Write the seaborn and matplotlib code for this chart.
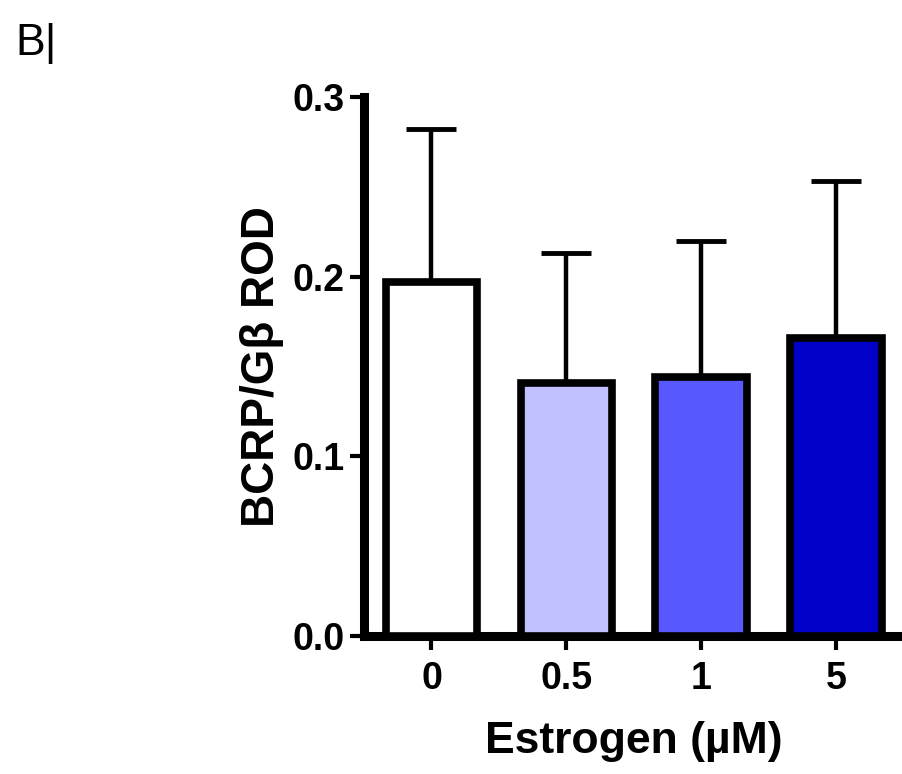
import matplotlib
matplotlib.use("Agg")
import matplotlib.pyplot as plt
import seaborn as sns
import pandas as pd

categories = ["0", "0.5", "1", "5"]
means = [0.197, 0.141, 0.144, 0.166]
errors = [0.085, 0.072, 0.076, 0.087]
colors = ["#FFFFFF", "#C0C0FF", "#5858FF", "#0000C8"]
y_ticks = [0.0, 0.1, 0.2, 0.3]
y_ticklabels = ["0.0", "0.1", "0.2", "0.3"]

sns.set_style("ticks")
plt.rcParams["font.family"] = ["Liberation Sans", "DejaVu Sans"]
plt.rcParams["text.color"] = "black"
plt.rcParams["axes.labelcolor"] = "black"
plt.rcParams["xtick.color"] = "black"
plt.rcParams["ytick.color"] = "black"

df = pd.DataFrame({"conc": categories, "val": means})

fig = plt.figure(figsize=(9.02, 7.74), dpi=100)
ax = fig.add_axes([0.4035, 0.178, 0.5985, 0.6967])

sns.barplot(data=df, x="conc", y="val", hue="conc", palette=colors,
            order=categories, hue_order=categories, legend=False,
            saturation=1, width=0.68, edgecolor="black", linewidth=5.5,
            ax=ax, zorder=3)

ax.errorbar(range(len(categories)), means, yerr=[[0] * len(errors), errors],
            fmt="none", ecolor="black", elinewidth=3.2, capsize=18,
            capthick=3.5, zorder=2)

ax.set_xlim(-0.5, 3.5)
ax.set_ylim(0, 0.3)
ax.set_yticks(y_ticks)
ax.set_yticklabels(y_ticklabels)

for s in ["top", "right"]:
    ax.spines[s].set_visible(False)
for s in ["left", "bottom"]:
    ax.spines[s].set_linewidth(6.5)
    ax.spines[s].set_color("black")
ax.spines["left"].set_bounds(0, 0.3)

ax.tick_params(axis="y", length=10, width=3, pad=4, labelsize=27, direction="out")
ax.tick_params(axis="x", length=10, width=3, pad=8, labelsize=27, direction="out")
for lab in ax.get_xticklabels() + ax.get_yticklabels():
    lab.set_fontweight("bold")

ax.set_xlabel("Estrogen (µM)", fontsize=32, fontweight="bold", labelpad=17)
ax.set_ylabel("BCRP/Gβ ROD", fontsize=33, fontweight="bold", labelpad=6)

fig.text(0.017, 0.97, "B|", fontsize=32, va="top", ha="left")

fig.savefig("out.png", dpi=100)
